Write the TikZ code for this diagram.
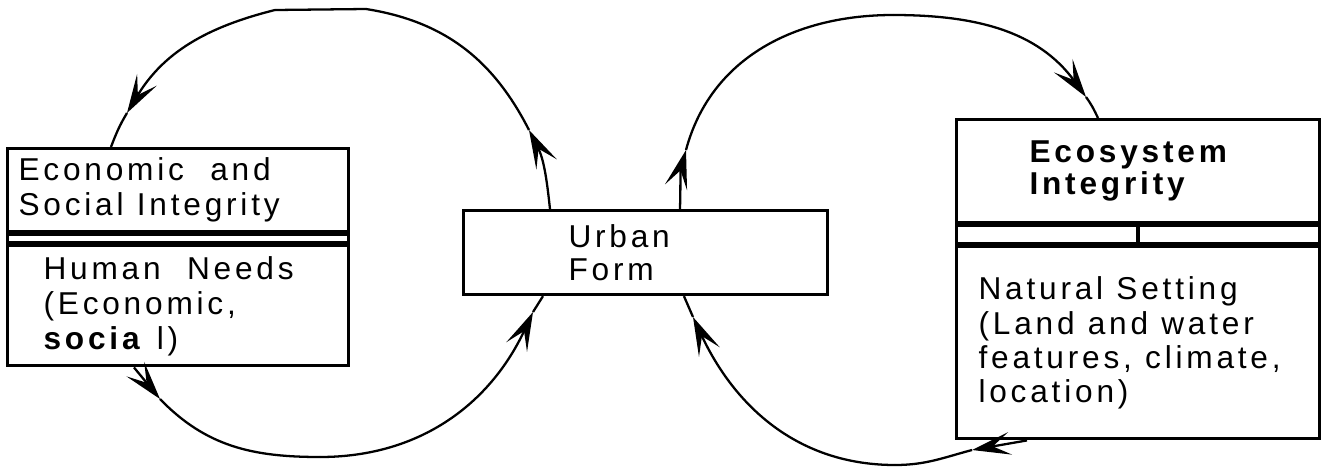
\documentclass[tikz,border=0pt]{standalone}
\usepackage{fontspec}
\setmainfont{Liberation Sans}[LetterSpace=12]
\usetikzlibrary{arrows.meta}

\begin{document}
\begin{tikzpicture}[x=0.02cm,y=0.02cm,
    part/.style={draw,line width=1.8pt,anchor=north west,inner ysep=0pt,align=left,
        font=\fontsize{18}{19.9}\selectfont,execute at begin node={\spaceskip=7.5pt plus 1pt}},
    cycleline/.style={line width=1.3pt},
    >={Stealth[length=22pt,width=13pt,inset=10pt]}]
    \useasboundingbox (0,0) rectangle (1326,468);

    \node[part,minimum width=6.82cm,minimum height=1.66cm,inner xsep=0.22cm,text width=6.38cm] (econ) at (6,321) {Economic\ \ and\\Social Integrity};
    \node[part,minimum width=6.82cm,minimum height=0.16cm,inner xsep=0pt] (econgap) at (econ.south west) {};
    \node[part,minimum width=6.82cm,minimum height=2.4cm,inner xsep=0.72cm,text width=5.38cm] (needs) at (econgap.south west) {Human\ \ Needs\\(Economic,\\\textbf{socia} l)};

    \node[part,minimum width=7.28cm,minimum height=1.68cm,inner xsep=2.1cm,text width=3.08cm,
        font=\fontsize{18}{18.8}\selectfont] (urban) at (462,259) {Urban\\Form};

    \node[part,minimum width=7.26cm,minimum height=2.06cm,inner xsep=1.46cm,text width=4.34cm,
        font=\fontsize{18}{18.2}\selectfont\bfseries] (eco) at (955,350) {Ecosystem\\Integrity};
    \node[part,minimum width=7.26cm,minimum height=0.36cm,inner xsep=0pt] (ecogap) at (eco.south west) {};
    \node[part,minimum width=7.26cm,minimum height=3.84cm,inner xsep=0.44cm,text width=6.38cm,
        font=\fontsize{18}{19.4}\selectfont] (natural) at (ecogap.south west) {Natural Setting\\(Land and water\\features, climate,\\location)};
    \draw[line width=1.8pt] (ecogap.north) -- (ecogap.south);

    \coordinate (la1) at (529,338);
    \coordinate (lt1) at (366,459);
    \coordinate (lt2) at (275,458);
    \coordinate (la2) at (127,355);
    \coordinate (la3) at (160,69);
    \coordinate (lb1) at (320,11);
    \coordinate (la4) at (533,156);

    \coordinate (ra1) at (686,318);
    \coordinate (rt1) at (893,453);
    \coordinate (ra2) at (1086,371);
    \coordinate (ra3) at (972,18);
    \coordinate (rb1) at (895,3);
    \coordinate (ra4) at (693,151);

    \draw[cycleline,->] ([xshift=1.76cm]urban.north west) to[out=96,in=-63] (la1);
    \draw[cycleline] (la1) to[out=117,in=-9] (lt1) -- (lt2);
    \draw[cycleline,->] (lt2) to[out=194,in=59] (la2);
    \draw[cycleline] (la2) to[out=239,in=69] ([xshift=2.1cm]econ.north west);

    \draw[cycleline,->] ([xshift=2.56cm]needs.south west) -- (la3);
    \draw[cycleline] (la3) to[out=-46,in=180] (lb1);
    \draw[cycleline,->] (lb1) to[out=0,in=-115] (la4);
    \draw[cycleline] (la4) -- ([xshift=1.62cm]urban.south west);

    \draw[cycleline,->] ([xshift=4.36cm]urban.north west) to[out=88,in=-105] (ra1);
    \draw[cycleline] (ra1) to[out=75,in=180] (rt1);
    \draw[cycleline,->] (rt1) to[out=0,in=126] (ra2);
    \draw[cycleline] (ra2) to[out=-54,in=115] ([xshift=2.86cm]eco.north west);

    \draw[cycleline,->] ([xshift=1.44cm]natural.south west) -- (ra3);
    \draw[cycleline] (ra3) to[out=195,in=0] (rb1);
    \draw[cycleline,->] (rb1) to[out=180,in=-65] (ra4);
    \draw[cycleline] (ra4) -- ([xshift=4.44cm]urban.south west);
\end{tikzpicture}
\end{document}
